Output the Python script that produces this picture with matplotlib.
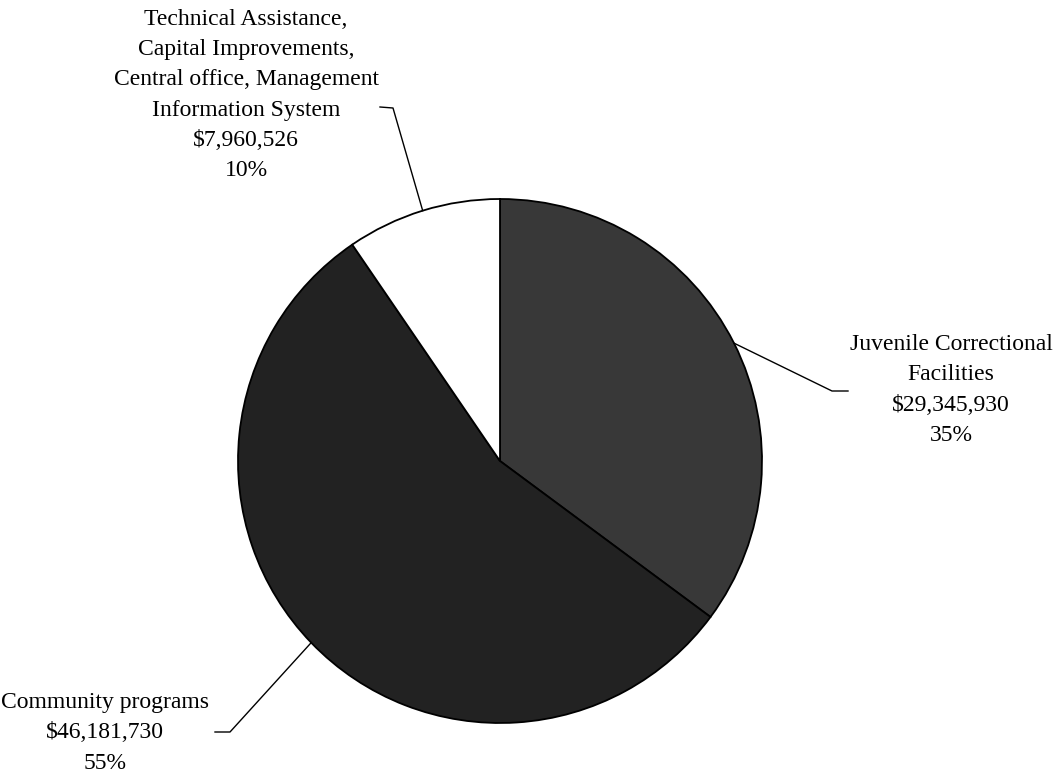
import numpy as np
import matplotlib

matplotlib.use("Agg")
import matplotlib.pyplot as plt

# budget split by program area
labels = [
    "Juvenile Correctional\nFacilities",
    "Community programs",
    "Technical Assistance,\nCapital Improvements,\nCentral office, Management\nInformation System",
]
amounts = [29345930, 46181730, 7960526]
percents = [35, 55, 10]
colors = ["#383838", "#222222", "#ffffff"]

W, H = 1057, 775
fig = plt.figure(figsize=(W / 100, H / 100), dpi=100)
ax = fig.add_axes([0, 0, 1, 1])

cx, cy, r = 500, H - 461, 262
wedges, _ = ax.pie(
    amounts, colors=colors, startangle=90, counterclock=False,
    center=(cx, cy), radius=r, frame=True,
    wedgeprops=dict(edgecolor="black", linewidth=1.3),
)
ax.set_xlim(0, W)
ax.set_ylim(0, H)
ax.set_aspect("auto")
ax.axis("off")

font = dict(family="Liberation Serif", fontsize=17, color="black")

# label block positions and the elbow of each leader line
text_pos = [(951, H - 390), (105, H - 733), (246, H - 95)]
elbows = [
    [(832, H - 391), (848, H - 391)],
    [(230, H - 732), (215, H - 732)],
    [(393, H - 108), (380, H - 107)],
]

for w, lab, amt, pct, tp, elb in zip(wedges, labels, amounts, percents, text_pos, elbows):
    ax.text(tp[0], tp[1], f"{lab}\n${amt:,}\n{pct}%", ha="center", va="center",
            multialignment="center", linespacing=1.58, **font)
    mid = np.deg2rad((w.theta1 + w.theta2) / 2)
    edge = (cx + r * np.cos(mid), cy + r * np.sin(mid))
    xs = [edge[0]] + [p[0] for p in elb]
    ys = [edge[1]] + [p[1] for p in elb]
    ax.plot(xs, ys, color="black", linewidth=1.0)

fig.savefig("out.png", dpi=100)
